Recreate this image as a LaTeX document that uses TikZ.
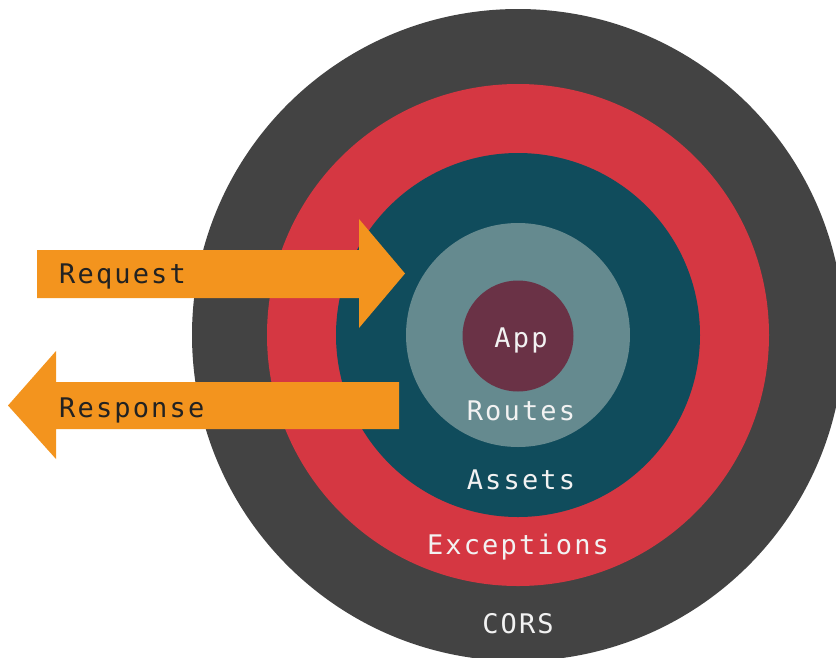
\documentclass[tikz,border=0pt]{standalone}
\usepackage{fontspec}
\newfontfamily\labelfont[LetterSpace=8]{DejaVu Sans Mono}
\definecolor{corsc}{HTML}{434343}
\definecolor{excc}{HTML}{D53742}
\definecolor{assetc}{HTML}{104C5C}
\definecolor{routec}{HTML}{658A8F}
\definecolor{appc}{HTML}{6A3246}
\definecolor{arrowc}{HTML}{F3941E}
\definecolor{lighttext}{HTML}{F2F2F2}
\definecolor{darktext}{HTML}{222222}
\begin{document}
\begin{tikzpicture}[x=1pt,y=-1pt,
  ring/.style={circle, inner sep=0pt, draw=none},
  ringlabel/.style={font=\labelfont\fontsize{27}{30}\selectfont, text=lighttext, inner sep=0pt, anchor=base},
  arrowlabel/.style={font=\labelfont\fontsize{27}{30}\selectfont, text=darktext, inner sep=0pt, anchor=base west},
  bigarrow/.style={fill=arrowc, draw=none}]
\useasboundingbox (0,0) rectangle (836,657);
\clip (0,0) rectangle (836,657);
\node[ring, fill=corsc, minimum size=652pt] (cors) at (518,335) {};
\node[ring, fill=excc, minimum size=502pt] (exc) at (518,335) {};
\node[ring, fill=assetc, minimum size=364pt] (assets) at (518,335) {};
\node[ring, fill=routec, minimum size=224pt] (routes) at (518,335) {};
\node[ring, fill=appc, minimum size=111pt] (app) at (518,336) {};
\node[ringlabel] (applbl) at (521,347) {App};
\node[ringlabel] (routeslbl) at (521,420) {Routes};
\node[ringlabel] (assetslbl) at (521,489) {Assets};
\node[ringlabel] (exclbl) at (518,554) {Exceptions};
\node[ringlabel] (corslbl) at (518,633) {CORS};
% request arrow
\fill[bigarrow] (37,250) -- (359,250) -- (359,219) -- (405,273.5) -- (359,328) -- (359,298) -- (37,298) -- cycle;
% response arrow
\fill[bigarrow] (399,382) -- (56,382) -- (56,351) -- (8,405.5) -- (56,459) -- (56,429) -- (399,429) -- cycle;
\node[arrowlabel] (reqlbl) at (59,283) {Request};
\node[arrowlabel] (reslbl) at (59,417) {Response};
\end{tikzpicture}
\end{document}
